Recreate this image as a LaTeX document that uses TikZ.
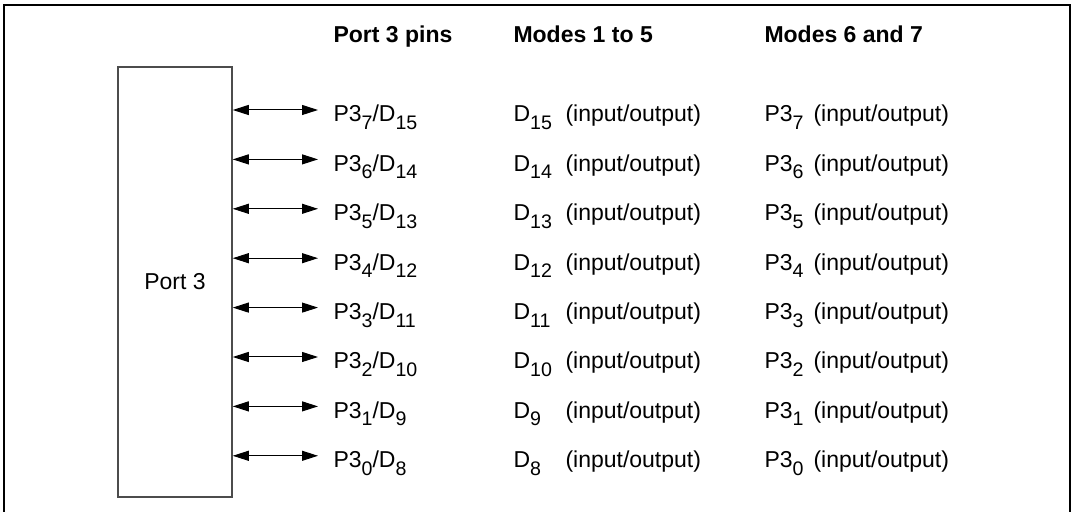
\documentclass[tikz,border=0pt]{standalone}
\usepackage{fontspec}
\setmainfont{Liberation Sans}
\usetikzlibrary{arrows.meta}

\newcommand{\dn}[1]{\raisebox{-0.33em}{\fontsize{9.8}{10}\selectfont #1}}

\begin{document}
\begin{tikzpicture}[x=0.5pt, y=-0.5pt,
  font=\fontsize{11.5}{13}\selectfont,
  pinlbl/.style={anchor=base west, text height=12pt, text depth=0pt, inner xsep=7.5pt, inner ysep=0pt},
  cell/.style={anchor=base west, inner sep=0pt},
  head/.style={anchor=base west, inner sep=0pt, font=\fontsize{11.5}{13}\selectfont\bfseries},
  >={Triangle[length=8pt, width=5pt]}, line width=0.5pt]
  \useasboundingbox (0,0) rectangle (1073,512);
  \draw[line width=1pt] (4,5) rectangle (1070,540);
  \node[draw=black!70, line width=0.75pt, minimum width=57pt, minimum height=215pt] (port) at (175,282) {Port 3};
  % column heads
  \node[head] (hpin) at (333,43) {Port 3 pins};
  \node[head] (hlo) at (513,43) {Modes 1 to 5};
  \node[head] (hhi) at (764,43) {Modes 6 and 7};
  % pins
  \node[pinlbl] (p7) at (318,122.0) {P3\dn{7}/D\dn{15}};
  \node[pinlbl] (p6) at (318,171.4) {P3\dn{6}/D\dn{14}};
  \node[pinlbl] (p5) at (318,220.8) {P3\dn{5}/D\dn{13}};
  \node[pinlbl] (p4) at (318,270.2) {P3\dn{4}/D\dn{12}};
  \node[pinlbl] (p3) at (318,319.6) {P3\dn{3}/D\dn{11}};
  \node[pinlbl] (p2) at (318,369.0) {P3\dn{2}/D\dn{10}};
  \node[pinlbl] (p1) at (318,418.4) {P3\dn{1}/D\dn{9}};
  \node[pinlbl] (p0) at (318,467.8) {P3\dn{0}/D\dn{8}};
  \draw[<->] (p7.west -| port.east) -- (p7.west);
  \draw[<->] (p6.west -| port.east) -- (p6.west);
  \draw[<->] (p5.west -| port.east) -- (p5.west);
  \draw[<->] (p4.west -| port.east) -- (p4.west);
  \draw[<->] (p3.west -| port.east) -- (p3.west);
  \draw[<->] (p2.west -| port.east) -- (p2.west);
  \draw[<->] (p1.west -| port.east) -- (p1.west);
  \draw[<->] (p0.west -| port.east) -- (p0.west);
  % modes 1 to 5
  \node[cell] (lo7) at (513,122.0) {\makebox[26pt][l]{D\dn{15}}(input/output)};
  \node[cell] (lo6) at (513,171.4) {\makebox[26pt][l]{D\dn{14}}(input/output)};
  \node[cell] (lo5) at (513,220.8) {\makebox[26pt][l]{D\dn{13}}(input/output)};
  \node[cell] (lo4) at (513,270.2) {\makebox[26pt][l]{D\dn{12}}(input/output)};
  \node[cell] (lo3) at (513,319.6) {\makebox[26pt][l]{D\dn{11}}(input/output)};
  \node[cell] (lo2) at (513,369.0) {\makebox[26pt][l]{D\dn{10}}(input/output)};
  \node[cell] (lo1) at (513,418.4) {\makebox[26pt][l]{D\dn{9}}(input/output)};
  \node[cell] (lo0) at (513,467.8) {\makebox[26pt][l]{D\dn{8}}(input/output)};
  % modes 6 and 7
  \node[cell] (hi7) at (764,122.0) {\makebox[24.5pt][l]{P3\dn{7}}(input/output)};
  \node[cell] (hi6) at (764,171.4) {\makebox[24.5pt][l]{P3\dn{6}}(input/output)};
  \node[cell] (hi5) at (764,220.8) {\makebox[24.5pt][l]{P3\dn{5}}(input/output)};
  \node[cell] (hi4) at (764,270.2) {\makebox[24.5pt][l]{P3\dn{4}}(input/output)};
  \node[cell] (hi3) at (764,319.6) {\makebox[24.5pt][l]{P3\dn{3}}(input/output)};
  \node[cell] (hi2) at (764,369.0) {\makebox[24.5pt][l]{P3\dn{2}}(input/output)};
  \node[cell] (hi1) at (764,418.4) {\makebox[24.5pt][l]{P3\dn{1}}(input/output)};
  \node[cell] (hi0) at (764,467.8) {\makebox[24.5pt][l]{P3\dn{0}}(input/output)};
\end{tikzpicture}
\end{document}
